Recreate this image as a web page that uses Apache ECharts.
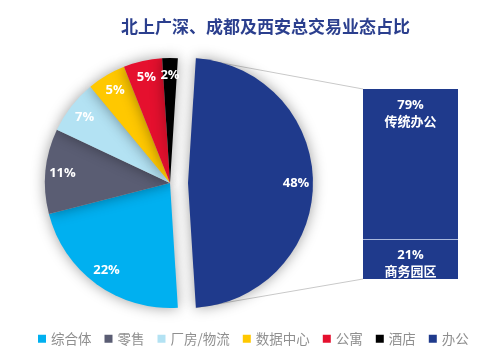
<!DOCTYPE html>
<html><head><meta charset="utf-8">
<script src="https://cdn.jsdelivr.net/npm/echarts@6/dist/echarts.min.js"></script>
<style>html,body{margin:0;padding:0;background:#fff}#c{width:500px;height:356px}</style>
</head><body><div id="c"></div>
<script>
// ---- data ----
var pieNames = ['办公', '综合体', '零售', '厂房/物流', '数据中心', '公寓', '酒店'];
var pieValues = [48, 22, 11, 7, 5, 5, 2];
var pieColors = ['#1f3a8c', '#00b0f0', '#5a5d73', '#b3e2f3', '#ffc800', '#e5102e', '#000000'];
var legendOrder = ['综合体', '零售', '厂房/物流', '数据中心', '公寓', '酒店', '办公'];
var barNames = ['商务园区', '传统办公'];
var barValues = [21, 79];
var titleText = '北上广深、成都及西安总交易业态占比';

// ---- layout ----
var CX = 170, CY = 183, R = 125, OFFSET = 18;
var START = 86.4;
var FONT = '"Open Sans","Noto Sans CJK SC",sans-serif';

var chart = echarts.init(document.getElementById('c'), null, {renderer: 'canvas'});

var pieData = pieNames.map(function (n, i) {
  return {name: n, value: pieValues[i], selected: i === 0, itemStyle: {color: pieColors[i]}};
});
var labelData = pieNames.map(function (n, i) {
  return {name: n, value: pieValues[i], selected: i === 0};
});

var option = {
  animation: false,
  title: {
    text: titleText, left: 121, top: 18, padding: 0,
    textStyle: {color: '#2b3f8e', fontSize: 17, fontWeight: 'bold', fontFamily: '"Noto Sans CJK SC",sans-serif'}
  },
  legend: {
    data: legendOrder, left: 38, top: 332, itemWidth: 8, itemHeight: 8, itemGap: 13,
    icon: 'rect', padding: 0,
    textStyle: {color: '#8f8f8f', fontSize: 13.5, fontFamily: '"Noto Sans CJK SC",sans-serif'}
  },
  grid: {left: 363, top: 89, width: 95, height: 190},
  xAxis: {type: 'category', data: ['办公'], show: false},
  yAxis: {type: 'value', min: 0, max: 100, show: false},
  series: [
    {
      type: 'pie', center: [CX, CY], radius: [0, R], startAngle: START, clockwise: true,
      selectedMode: 'single', selectedOffset: OFFSET, silent: true,
      label: {show: false}, labelLine: {show: false},
      itemStyle: {shadowBlur: 14, shadowColor: 'rgba(0,0,0,0.38)'},
      emphasis: {disabled: true},
      data: pieData, z: 2
    },
    {
      type: 'pie', center: [CX, CY], radius: [R * 0.68, R], startAngle: START, clockwise: true,
      selectedMode: 'single', selectedOffset: OFFSET, silent: true,
      itemStyle: {color: 'rgba(0,0,0,0)'},
      label: {show: true, position: 'inside', formatter: '{c}%', color: '#fff', fontSize: 13, fontWeight: 'bold', fontFamily: FONT},
      labelLine: {show: false}, emphasis: {disabled: true},
      data: labelData, z: 3
    },
    {
      type: 'bar', name: barNames[0], stack: 'office', barWidth: '100%', silent: true,
      data: [barValues[0]],
      itemStyle: {color: '#1f3a8c'},
      label: {show: true, position: 'insideTop', distance: 8, formatter: function (p) { return p.value + '%\n' + barNames[0]; },
        color: '#fff', fontSize: 13, fontWeight: 'bold', lineHeight: 17, fontFamily: FONT}
    },
    {
      type: 'bar', name: barNames[1], stack: 'office', barWidth: '100%', silent: true,
      data: [barValues[1]],
      itemStyle: {color: '#1f3a8c'},
      label: {show: true, position: 'insideTop', distance: 8, formatter: function (p) { return p.value + '%\n' + barNames[1]; },
        color: '#fff', fontSize: 13, fontWeight: 'bold', lineHeight: 17, fontFamily: FONT}
    }
  ]
};
chart.setOption(option);

// connector lines & divider derived from library geometry
(function () {
  var layout = null;
  try { layout = chart.getModel().getSeriesByIndex(0).getData().getItemLayout(0); } catch (e) {}
  var cx = CX, cy = CY, r = R, a0, a1;
  if (layout && layout.startAngle != null) {
    cx = layout.cx; cy = layout.cy; r = layout.r; a0 = layout.startAngle; a1 = layout.endAngle;
  } else {
    a0 = -START * Math.PI / 180; a1 = a0 + pieValues[0] / 100 * 2 * Math.PI;
  }
  var mid = (a0 + a1) / 2;
  var ox = cx + Math.cos(mid) * OFFSET, oy = cy + Math.sin(mid) * OFFSET;
  var p0 = [ox + r * Math.cos(a0), oy + r * Math.sin(a0)];
  var p1 = [ox + r * Math.cos(a1), oy + r * Math.sin(a1)];
  var rect = chart.getModel().getComponent('grid', 0).coordinateSystem.getRect();
  var yTop = chart.convertToPixel({yAxisIndex: 0}, 100);
  var yBot = chart.convertToPixel({yAxisIndex: 0}, 0);
  var yDiv = chart.convertToPixel({yAxisIndex: 0}, barValues[0]);
  var yd = Math.round(yDiv) + 0.5;
  chart.setOption({
    graphic: [
      {type: 'line', silent: true, z: 1, shape: {x1: p0[0], y1: p0[1], x2: rect.x, y2: yTop}, style: {stroke: '#c9c9c9', lineWidth: 1}},
      {type: 'line', silent: true, z: 1, shape: {x1: p1[0], y1: p1[1], x2: rect.x, y2: yBot}, style: {stroke: '#c9c9c9', lineWidth: 1}},
      {type: 'line', silent: true, z: 100, shape: {x1: rect.x, y1: yd, x2: rect.x + rect.width, y2: yd}, style: {stroke: '#a9b8dc', lineWidth: 1.2}}
    ]
  });
})();
</script>
</body></html>
